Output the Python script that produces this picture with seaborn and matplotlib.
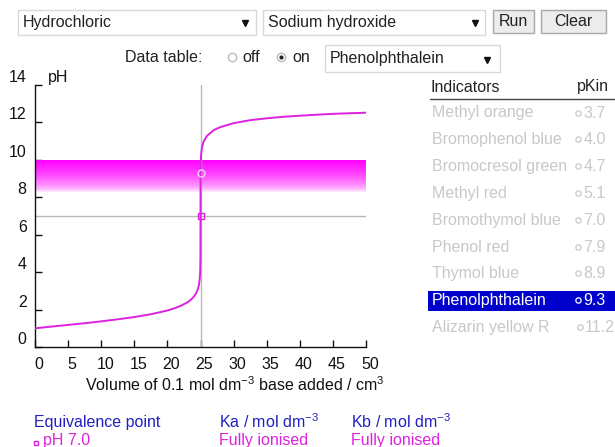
# Titration curve: HCl vs NaOH, phenolphthalein range shown as a band

import numpy as np
import seaborn as sns
import matplotlib.pyplot as plt
from matplotlib.patches import Rectangle
from matplotlib.transforms import ScaledTranslation

# curve
volume = [0, 2.5, 5, 7.5, 10, 12.5, 15, 17.5, 20, 21, 22, 23, 23.5, 24, 24.3,
          24.5, 24.7, 24.8, 24.9, 24.95, 24.99, 25, 25.01, 25.05, 25.1, 25.2,
          25.3, 25.5, 26, 27, 28, 30, 32.5, 35, 37.5, 40, 42.5, 45, 47.5, 50]
ph = [1.00, 1.09, 1.18, 1.27, 1.37, 1.48, 1.60, 1.75, 1.95, 2.06, 2.20, 2.38,
      2.51, 2.69, 2.85, 3.00, 3.22, 3.40, 3.70, 4.00, 4.70, 7.00, 9.30, 10.00,
      10.30, 10.60, 10.78, 11.00, 11.29, 11.59, 11.75, 11.96, 12.12, 12.22,
      12.30, 12.36, 12.41, 12.46, 12.49, 12.52]

equiv_volume = 25
equiv_ph = 7.0
pkin_selected = 9.3
band_low, band_high = 8.3, 10.0

x_ticks = [0, 5, 10, 15, 20, 25, 30, 35, 40, 45, 50]
y_ticks = [0, 2, 4, 6, 8, 10, 12, 14]

indicators = ["Methyl orange", "Bromophenol blue", "Bromocresol green",
              "Methyl red", "Bromothymol blue", "Phenol red", "Thymol blue",
              "Phenolphthalein", "Alizarin yellow R"]
pkin = ["3.7", "4.0", "4.7", "5.1", "7.0", "7.9", "8.9", "9.3", "11.2"]
selected = "Phenolphthalein"

sns.set_style("white")
plt.rcParams["font.family"] = ["Liberation Sans", "DejaVu Sans"]
plt.rcParams["mathtext.fontset"] = "custom"
plt.rcParams["mathtext.rm"] = "Liberation Sans"
plt.rcParams["mathtext.it"] = "Liberation Sans:italic"

W, H = 615, 447
fig = plt.figure(figsize=(W / 100, H / 100), dpi=100)
fs = 11.5
mag = "#dd22dd"
blue = "#2020c0"

# page overlay in pixel coords
ui = fig.add_axes([0, 0, 1, 1])
ui.set_xlim(0, W)
ui.set_ylim(H, 0)
ui.axis("off")


def box(x0, y0, x1, y1, fc="white", ec="#d8d8d8"):
    ui.add_patch(Rectangle((x0, y0), x1 - x0, y1 - y0, fc=fc, ec=ec, lw=1))


box(18, 10, 256, 35)
ui.text(23, 22.5, "Hydrochloric", fontsize=fs, va="center", color="#222")
ui.plot(245, 23, marker="v", ms=5, color="#111")
box(263, 10, 485, 35)
ui.text(268, 22.5, "Sodium hydroxide", fontsize=fs, va="center", color="#222")
ui.plot(475, 23, marker="v", ms=5, color="#111")
box(493, 10, 534, 33, fc="#ececec", ec="#a8a8a8")
ui.text(513.5, 21.5, "Run", fontsize=fs, va="center", ha="center", color="#222")
box(541, 10, 606, 33, fc="#ececec", ec="#a8a8a8")
ui.text(573.5, 21.5, "Clear", fontsize=fs, va="center", ha="center", color="#222")

ui.text(125, 58, "Data table:", fontsize=fs, va="center", color="#222")
ui.plot(232, 57, marker="o", ms=6, mfc="white", mec="#bbbbbb")
ui.text(242, 58, "off", fontsize=fs, va="center", color="#222")
ui.plot(281, 57, marker="o", ms=6, mfc="white", mec="#bbbbbb")
ui.plot(281, 57, marker="o", ms=2, color="#222")
ui.text(292, 58, "on", fontsize=fs, va="center", color="#222")
box(325, 45, 500, 72)
ui.text(330, 58.5, "Phenolphthalein", fontsize=fs, va="center", color="#222")
ui.plot(487, 60, marker="v", ms=5, color="#111")

# indicator table
ui.text(431, 87, "Indicators", fontsize=fs, va="center", color="#222")
ui.text(577, 87, "pKin", fontsize=fs, va="center", color="#222")
ui.plot([430, 615], [99, 99], color="#444", lw=1)
for i, (name, pk) in enumerate(zip(indicators, pkin)):
    yy = 113 + i * 26.8
    col = "#c8c8c8"
    if name == selected:
        ui.add_patch(Rectangle((428, yy - 10), 187, 20.5, fc="#0000cc", ec="none"))
        col = "white"
    ui.text(432, yy, name, fontsize=fs, va="center", color=col)
    short = len(pk) == 3
    ui.plot(577.5 if short else 580, yy - 0.5, marker="o", ms=3.8,
            mfc="none", mec=col, mew=0.9)
    ui.text(583.5 if short else 584.5, yy, pk, fontsize=fs, va="center", color=col)

# bottom info
ui.text(85, 385, "Volume of 0.1 mol dm$^{-3}$ base added / cm$^{3}$",
        fontsize=fs, va="center", color="#111")
ui.text(34, 422, "Equivalence point", fontsize=fs, va="center", color=blue)
ui.text(219, 422, "Ka / mol dm$^{-3}$", fontsize=fs, va="center", color=blue)
ui.text(351, 422, "Kb / mol dm$^{-3}$", fontsize=fs, va="center", color=blue)
ui.plot(36, 443, marker="s", ms=3.5, mfc="none", mec=mag, mew=1)
ui.text(43, 441, "pH 7.0", fontsize=fs, va="center", color=mag)
ui.text(219, 441, "Fully ionised", fontsize=fs, va="center", color=mag)
ui.text(351, 441, "Fully ionised", fontsize=fs, va="center", color=mag)

# chart
ax = fig.add_axes([35 / W, 1 - 347 / H, (366 - 35) / W, (347 - 85) / H])
ax.set_facecolor("none")
ax.set_xlim(0, 50)
ax.set_ylim(0, 14)

grad = np.linspace(0, 1, 200) ** 0.55
rgba = np.zeros((200, 1, 4))
rgba[..., 0] = 1.0
rgba[..., 2] = 1.0
rgba[:, 0, 3] = grad
ax.imshow(rgba, extent=[0, 50, band_low, band_high], origin="lower",
          aspect="auto", interpolation="bilinear", zorder=1)

ax.axvline(equiv_volume, color="#b8b8b8", lw=1, zorder=2)
ax.plot([0, 50], [equiv_ph, equiv_ph], color="#b8b8b8", lw=1, zorder=2)

sns.lineplot(x=volume, y=ph, ax=ax, color=mag, lw=1.4, zorder=3)
ax.plot(equiv_volume, equiv_ph, marker="s", ms=4, mfc="none", mec=mag, mew=1, zorder=4)
ax.plot(equiv_volume, pkin_selected, marker="o", ms=5, mfc="none", mec="#f4d0f4",
        mew=1, zorder=4)

ax.set_xticks(x_ticks)
ax.set_yticks(y_ticks)
ax.tick_params(direction="in", length=5, width=1, colors="#111", labelsize=fs,
               left=True, bottom=True)
ax.tick_params(axis="x", pad=7)
ax.tick_params(axis="y", pad=6)
shift = ScaledTranslation(4 / 100, 0, fig.dpi_scale_trans)
for lbl in ax.get_xticklabels():
    lbl.set_transform(lbl.get_transform() + shift)
for lbl in ax.get_yticklabels():
    lbl.set_verticalalignment("bottom")
for s in ["top", "right"]:
    ax.spines[s].set_visible(False)
for s in ["left", "bottom"]:
    ax.spines[s].set_color("#111")
    ax.spines[s].set_linewidth(1)
ax.set_xlabel("")
ax.set_ylabel("")
ax.text(2.0, 14.4, "pH", fontsize=fs, va="center", color="#111")

fig.savefig("out.png", dpi=100)
